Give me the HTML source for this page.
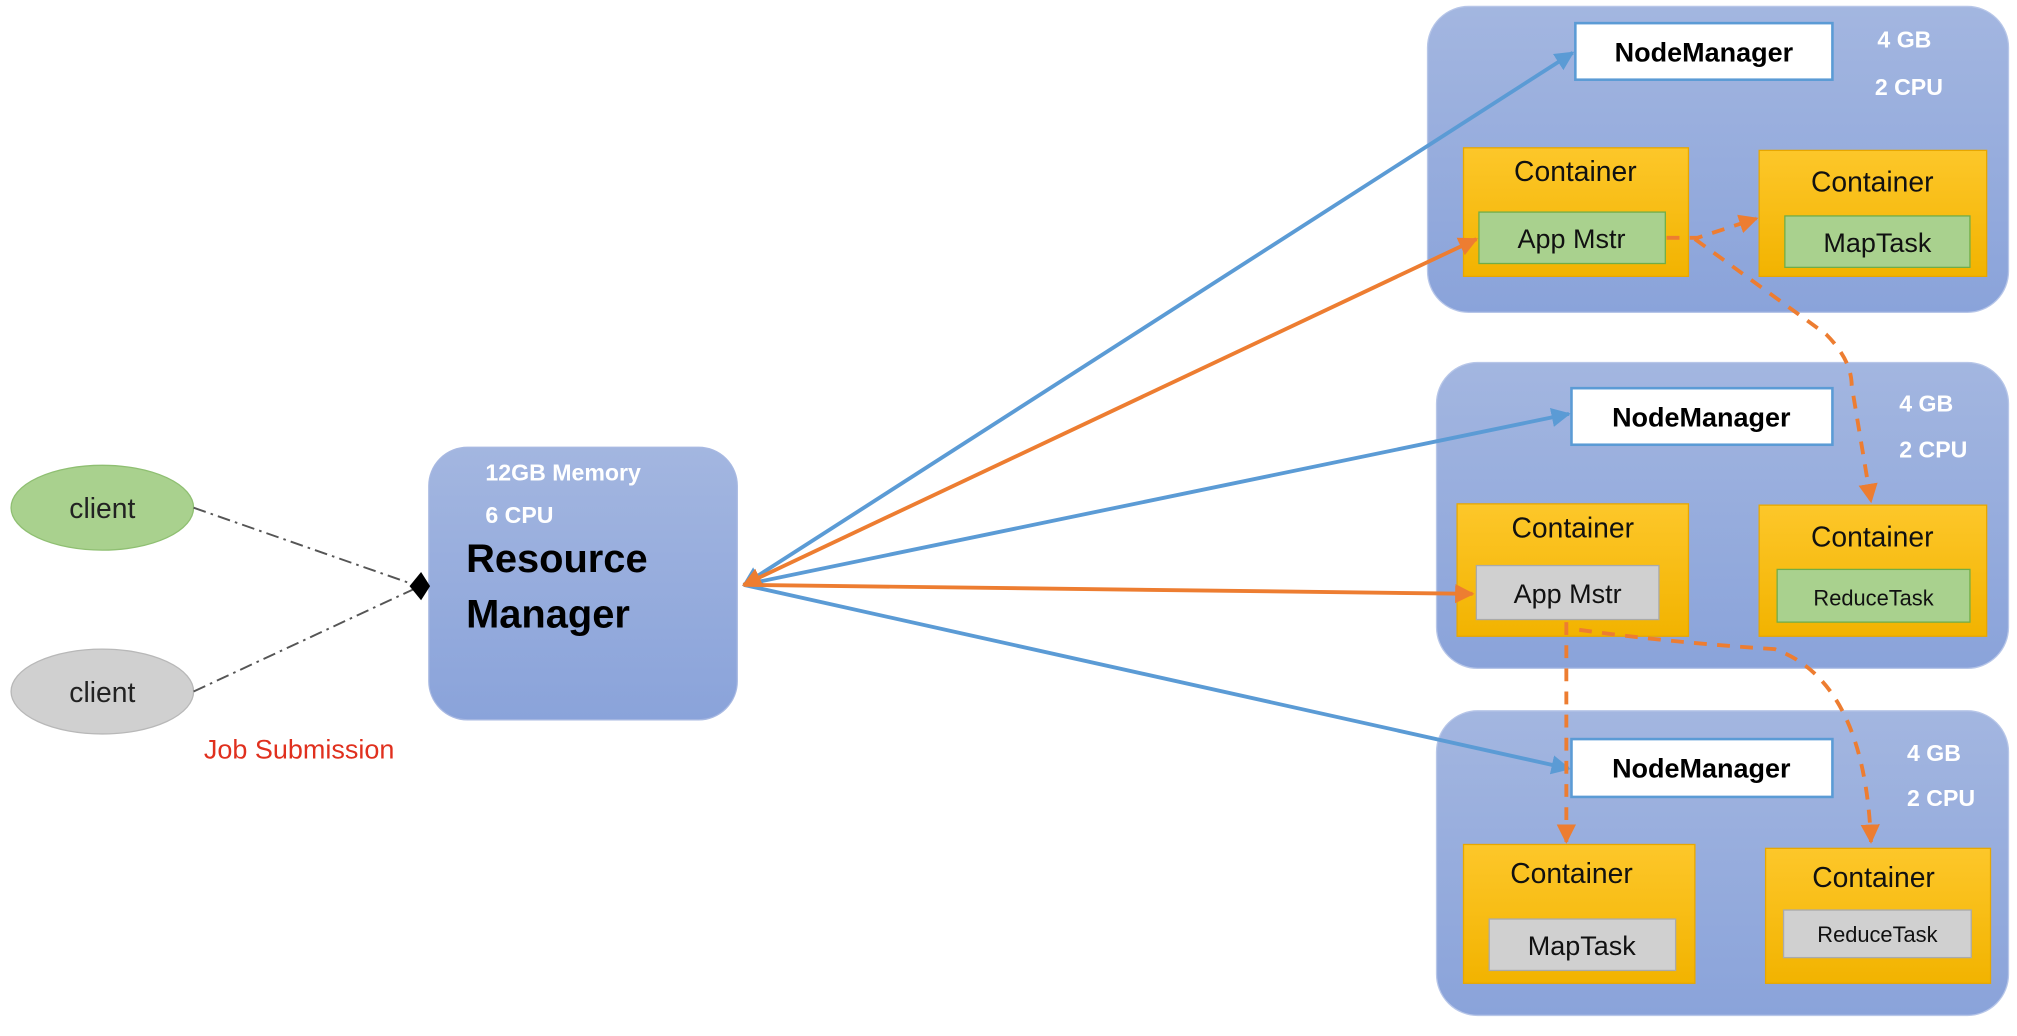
<!DOCTYPE html>
<html><head><meta charset="utf-8"><style>
html,body{margin:0;padding:0;background:#fff;}
svg{display:block;}
text{font-family:"Liberation Sans",sans-serif;}
</style></head><body>
<svg width="2017" height="1036" viewBox="0 0 1568 806" xmlns="http://www.w3.org/2000/svg">
<defs>
<linearGradient id="bg" x1="0" y1="0" x2="0" y2="1"><stop offset="0" stop-color="#a3b6e0"/><stop offset="1" stop-color="#8aa3da"/></linearGradient>
<linearGradient id="og" x1="0" y1="0" x2="0" y2="1"><stop offset="0" stop-color="#fdc72a"/><stop offset="1" stop-color="#f2b300"/></linearGradient>
<marker id="ab" viewBox="0 0 10 10" refX="9" refY="5" markerWidth="5" markerHeight="5" orient="auto-start-reverse"><path d="M0,0L10,5L0,10z" fill="#5b9bd5"/></marker>
<marker id="ao" viewBox="0 0 10 10" refX="9" refY="5" markerWidth="5" markerHeight="5" orient="auto-start-reverse"><path d="M0,0L10,5L0,10z" fill="#ed7d31"/></marker>
</defs>
<rect x="1110" y="5" width="452" height="238" rx="32" fill="url(#bg)" stroke="#b7c6e8"/>
<rect x="1117" y="282" width="445" height="238" rx="32" fill="url(#bg)" stroke="#b7c6e8"/>
<rect x="1117" y="553" width="445" height="237" rx="32" fill="url(#bg)" stroke="#b7c6e8"/>
<rect x="333" y="348" width="240" height="212" rx="30" fill="url(#bg)" stroke="#a8b9e2"/>
<g font-weight="bold" font-size="21" text-anchor="middle">
<rect x="1225" y="18" width="200" height="44" fill="#fff" stroke="#5b9bd5" stroke-width="2"/><text x="1325" y="48">NodeManager</text>
<rect x="1222" y="302" width="203" height="44" fill="#fff" stroke="#5b9bd5" stroke-width="2"/><text x="1323" y="332">NodeManager</text>
<rect x="1222" y="575" width="203" height="45" fill="#fff" stroke="#5b9bd5" stroke-width="2"/><text x="1323" y="605">NodeManager</text>
</g>
<g fill="#fff" font-weight="bold" font-size="18">
<text x="1460" y="37">4 GB</text><text x="1458" y="74">2 CPU</text>
<text x="1477" y="320">4 GB</text><text x="1477" y="356">2 CPU</text>
<text x="1483" y="592">4 GB</text><text x="1483" y="627">2 CPU</text>
<text x="377" y="374">12GB Memory</text><text x="377" y="407">6 CPU</text>
</g>
<g stroke="#e8a700" fill="url(#og)">
<rect x="1138" y="115" width="175" height="100"/>
<rect x="1368" y="117" width="177" height="98"/>
<rect x="1133" y="392" width="180" height="103"/>
<rect x="1368" y="393" width="177" height="102"/>
<rect x="1138" y="657" width="180" height="108"/>
<rect x="1373" y="660" width="175" height="105"/>
</g>
<g font-size="22" text-anchor="middle" fill="#111">
<text x="1225" y="141">Container</text>
<text x="1456" y="149">Container</text>
<text x="1223" y="418">Container</text>
<text x="1456" y="425">Container</text>
<text x="1222" y="687">Container</text>
<text x="1457" y="690">Container</text>
</g>
<rect x="1150" y="165" width="145" height="40" fill="#a9d18e" stroke="#70ad47"/>
<rect x="1388" y="168" width="144" height="40" fill="#a9d18e" stroke="#70ad47"/>
<rect x="1148" y="440" width="142" height="42" fill="#d0d0d0" stroke="#aaa"/>
<rect x="1382" y="443" width="150" height="41" fill="#a9d18e" stroke="#70ad47"/>
<rect x="1158" y="715" width="145" height="40" fill="#d0d0d0" stroke="#aaa"/>
<rect x="1387" y="708" width="146" height="37" fill="#d0d0d0" stroke="#aaa"/>
<g font-size="21" text-anchor="middle" fill="#111">
<text x="1222" y="193">App Mstr</text>
<text x="1460" y="196">MapTask</text>
<text x="1219" y="469">App Mstr</text>
<text x="1457" y="471" font-size="17">ReduceTask</text>
<text x="1230" y="743">MapTask</text>
<text x="1460" y="733" font-size="17">ReduceTask</text>
</g>
<g font-weight="bold" font-size="31" fill="#000"><text x="362" y="445">Resource</text><text x="362" y="488">Manager</text></g>
<ellipse cx="79" cy="395" rx="71" ry="33" fill="#a9d18e" stroke="#8fbf72"/>
<ellipse cx="79" cy="538" rx="71" ry="33" fill="#d0d0d0" stroke="#b8b8b8"/>
<g font-size="22" text-anchor="middle" fill="#222"><text x="79" y="403">client</text><text x="79" y="546">client</text></g>
<text x="158" y="590" font-size="21" fill="#e0301e">Job Submission</text>
<g stroke="#555" stroke-width="1.5" stroke-dasharray="10,4,2,4" fill="none">
<path d="M150,395L322,455"/><path d="M150,538L322,458"/>
</g>
<path d="M318,456L327,445L334,456L327,467z" fill="#000"/>
<g stroke-width="3" fill="none">
<path d="M578,455L1223,41" stroke="#5b9bd5" marker-start="url(#ab)" marker-end="url(#ab)"/>
<path d="M578,455L1220,322" stroke="#5b9bd5" marker-end="url(#ab)"/>
<path d="M578,455L1220,598" stroke="#5b9bd5" marker-end="url(#ab)"/>
<path d="M578,455L1148,186" stroke="#ed7d31" marker-start="url(#ao)" marker-end="url(#ao)"/>
<path d="M578,455L1145,462" stroke="#ed7d31" marker-end="url(#ao)"/>
</g>
<g stroke="#ed7d31" stroke-width="3" fill="none" stroke-dasharray="10,8">
<path d="M1296,185L1320,185L1366,170" marker-end="url(#ao)"/>
<path d="M1318,186L1420,260Q1440,280 1440,300L1455,390" marker-end="url(#ao)"/>
<path d="M1218,484L1218,655" marker-end="url(#ao)"/>
<path d="M1228,490Q1300,500 1380,505Q1450,530 1455,655" marker-end="url(#ao)"/>
</g>
</svg>
</body></html>
